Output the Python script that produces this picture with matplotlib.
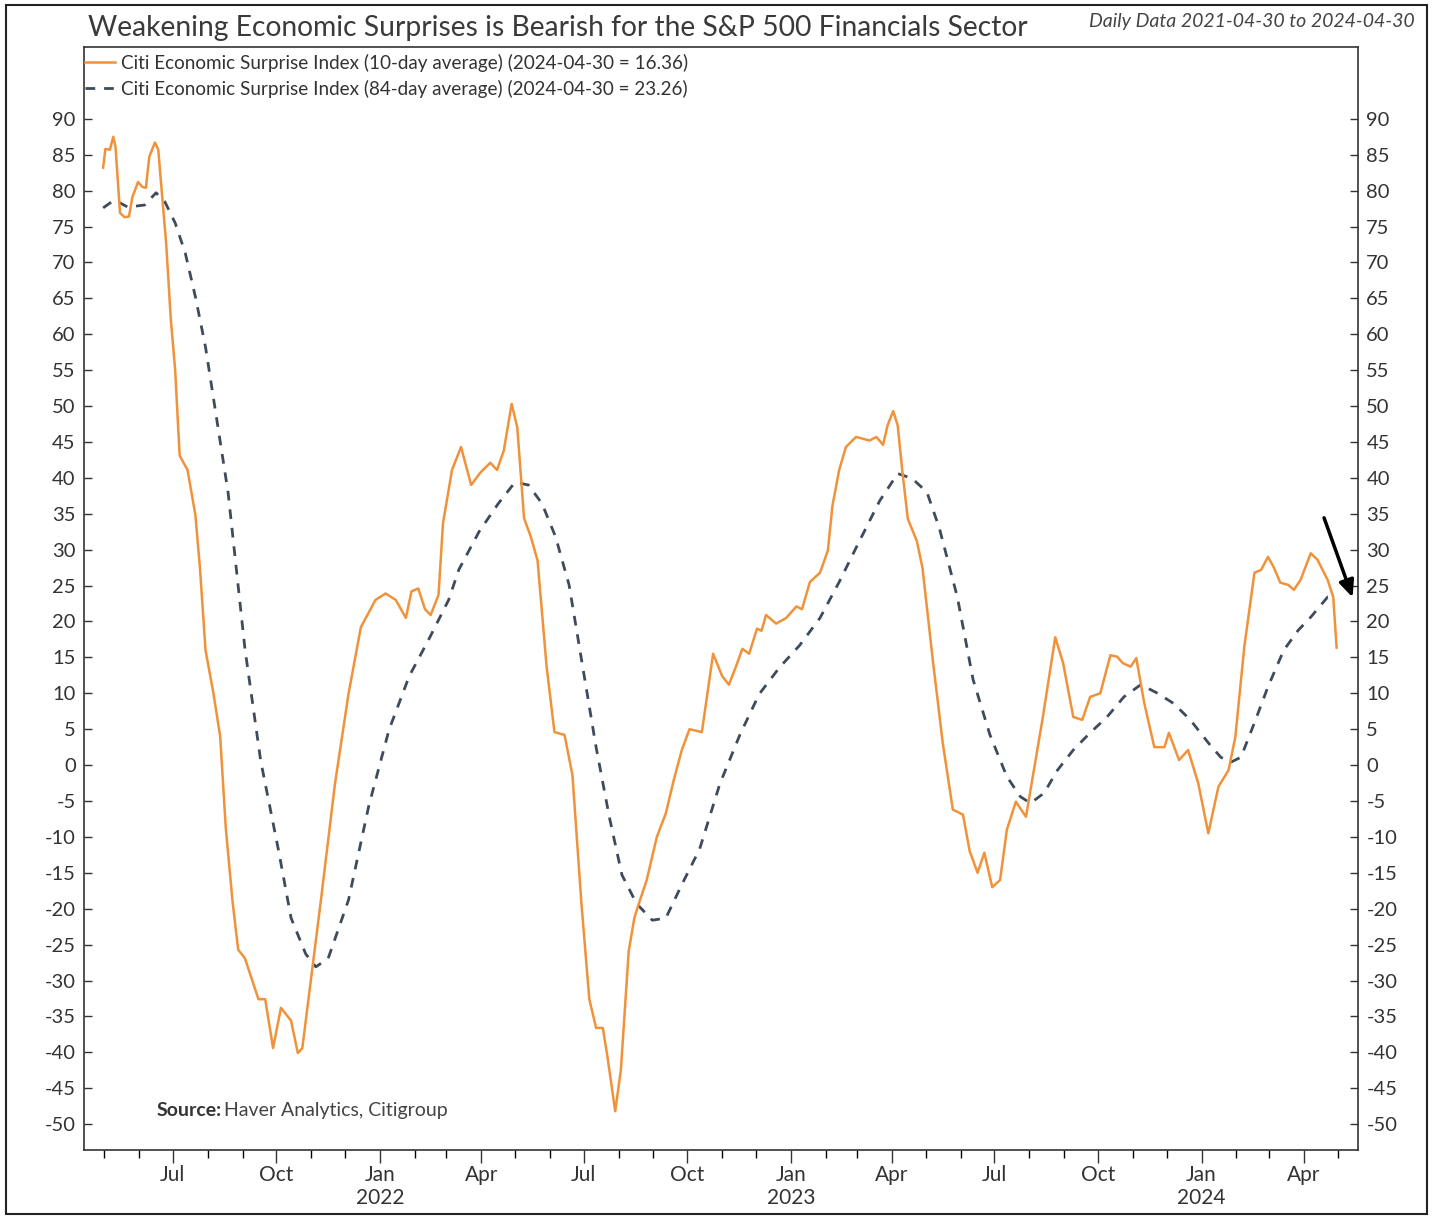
import numpy as np
import pandas as pd
import matplotlib
matplotlib.use('Agg')
import matplotlib.pyplot as plt
import matplotlib.dates as mdates
from matplotlib.patches import Rectangle

# Citi Economic Surprise Index, 10-day average
fast_dates = ['2021-04-30', '2021-05-02', '2021-05-06', '2021-05-09', '2021-05-11', '2021-05-15',
              '2021-05-19', '2021-05-23', '2021-05-26', '2021-05-31', '2021-06-04', '2021-06-07',
              '2021-06-10', '2021-06-15', '2021-06-18', '2021-06-20', '2021-06-25', '2021-06-29',
              '2021-07-03', '2021-07-07', '2021-07-14', '2021-07-21', '2021-07-25', '2021-07-30',
              '2021-08-06', '2021-08-12', '2021-08-17', '2021-08-23', '2021-08-28', '2021-09-03',
              '2021-09-15', '2021-09-21', '2021-09-28', '2021-10-05', '2021-10-14', '2021-10-20',
              '2021-10-24', '2021-11-01', '2021-11-10', '2021-11-22', '2021-12-04', '2021-12-15',
              '2021-12-28', '2022-01-06', '2022-01-15', '2022-01-24', '2022-01-29', '2022-02-04',
              '2022-02-10', '2022-02-15', '2022-02-22', '2022-02-26', '2022-03-06', '2022-03-14',
              '2022-03-23', '2022-03-31', '2022-04-09', '2022-04-15', '2022-04-21', '2022-04-28',
              '2022-05-03', '2022-05-09', '2022-05-15', '2022-05-21', '2022-05-29', '2022-06-05',
              '2022-06-14', '2022-06-21', '2022-06-29', '2022-07-06', '2022-07-12', '2022-07-18',
              '2022-07-22', '2022-07-29', '2022-08-03', '2022-08-10', '2022-08-15', '2022-08-19',
              '2022-08-26', '2022-09-04', '2022-09-12', '2022-09-19', '2022-09-26', '2022-10-03',
              '2022-10-14', '2022-10-24', '2022-11-01', '2022-11-07', '2022-11-13', '2022-11-19',
              '2022-11-25', '2022-12-02', '2022-12-06', '2022-12-10', '2022-12-19', '2022-12-28',
              '2023-01-06', '2023-01-11', '2023-01-18', '2023-01-27', '2023-02-03', '2023-02-07',
              '2023-02-13', '2023-02-19', '2023-02-28', '2023-03-12', '2023-03-18', '2023-03-24',
              '2023-03-28', '2023-04-02', '2023-04-06', '2023-04-10', '2023-04-15', '2023-04-23',
              '2023-04-28', '2023-05-07', '2023-05-16', '2023-05-25', '2023-06-03', '2023-06-09',
              '2023-06-16', '2023-06-22', '2023-06-29', '2023-07-06', '2023-07-12', '2023-07-20',
              '2023-07-29', '2023-08-02', '2023-08-13', '2023-08-24', '2023-08-31', '2023-09-09',
              '2023-09-17', '2023-09-24', '2023-10-03', '2023-10-12', '2023-10-18', '2023-10-23',
              '2023-10-30', '2023-11-04', '2023-11-11', '2023-11-20', '2023-11-29', '2023-12-03',
              '2023-12-12', '2023-12-20', '2023-12-29', '2024-01-07', '2024-01-16', '2024-01-25',
              '2024-01-31', '2024-02-08', '2024-02-17', '2024-02-23', '2024-02-29', '2024-03-05',
              '2024-03-11', '2024-03-18', '2024-03-23', '2024-03-29', '2024-04-07', '2024-04-13',
              '2024-04-22', '2024-04-27', '2024-04-30']
fast_vals = [83.2, 85.8, 85.7, 87.5, 86.1, 76.9,
             76.3, 76.4, 79.1, 81.2, 80.5, 80.4,
             84.7, 86.7, 85.7, 81.9, 72.7, 62.4,
             55.0, 43.1, 41.1, 34.8, 27.5, 16.0,
             10.0, 4.0, -8.8, -19.0, -25.7, -26.9,
             -32.6, -32.6, -39.4, -33.8, -35.6, -40.1,
             -39.4, -29.4, -18.2, -2.6, 9.9, 19.2,
             23.0, 23.9, 23.0, 20.5, 24.2, 24.6,
             21.7, 20.9, 23.7, 33.7, 41.1, 44.3,
             39.0, 40.7, 42.1, 41.1, 43.8, 50.3,
             47.0, 34.4, 31.8, 28.5, 13.8, 4.6,
             4.2, -1.4, -19.3, -32.6, -36.6, -36.6,
             -40.5, -48.2, -42.5, -25.9, -21.3, -19.3,
             -16.0, -10.0, -6.7, -2.1, 2.0, 5.0,
             4.6, 15.5, 12.4, 11.2, 13.6, 16.2,
             15.5, 19.0, 18.7, 20.9, 19.7, 20.5,
             22.1, 21.7, 25.5, 26.8, 29.9, 36.1,
             41.1, 44.3, 45.7, 45.2, 45.7, 44.6,
             47.3, 49.3, 47.3, 41.1, 34.3, 31.2,
             27.5, 14.9, 3.1, -6.2, -6.9, -12.0,
             -15.0, -12.2, -17.0, -16.0, -9.0, -5.1,
             -7.2, -3.5, 6.7, 17.8, 14.2, 6.7,
             6.3, 9.5, 10.0, 15.3, 15.1, 14.2,
             13.7, 14.9, 8.7, 2.5, 2.5, 4.5,
             0.7, 2.1, -2.5, -9.5, -3.0, -0.7,
             3.9, 16.5, 26.8, 27.2, 29.0, 27.6,
             25.4, 25.1, 24.4, 25.8, 29.5, 28.6,
             25.8, 23.4, 16.36]

# Citi Economic Surprise Index, 84-day average
slow_dates = ['2021-04-30', '2021-05-10', '2021-05-22', '2021-06-06', '2021-06-16', '2021-06-24',
              '2021-07-03', '2021-07-12', '2021-07-21', '2021-07-30', '2021-08-19', '2021-09-03',
              '2021-09-17', '2021-10-03', '2021-10-14', '2021-10-27', '2021-11-05', '2021-11-16',
              '2021-12-04', '2021-12-22', '2022-01-09', '2022-01-27', '2022-02-13', '2022-03-03',
              '2022-03-12', '2022-03-30', '2022-04-16', '2022-05-01', '2022-05-13', '2022-05-25',
              '2022-06-06', '2022-06-18', '2022-06-30', '2022-07-12', '2022-07-24', '2022-08-04',
              '2022-08-17', '2022-08-31', '2022-09-12', '2022-09-26', '2022-10-12', '2022-10-30',
              '2022-11-17', '2022-12-04', '2022-12-22', '2023-01-09', '2023-01-27', '2023-02-13',
              '2023-03-03', '2023-03-21', '2023-04-06', '2023-04-19', '2023-05-02', '2023-05-13',
              '2023-05-29', '2023-06-12', '2023-06-27', '2023-07-12', '2023-07-24', '2023-08-02',
              '2023-08-14', '2023-08-26', '2023-09-09', '2023-09-24', '2023-10-09', '2023-10-24',
              '2023-11-08', '2023-11-23', '2023-12-07', '2023-12-22', '2024-01-07', '2024-01-18',
              '2024-01-27', '2024-02-05', '2024-02-17', '2024-02-29', '2024-03-14', '2024-03-27',
              '2024-04-07', '2024-04-22', '2024-04-30']
slow_vals = [77.6, 78.7, 77.7, 78.0, 79.7, 78.4,
             75.5, 71.3, 65.2, 58.2, 38.0, 16.2,
             0.6, -12.0, -21.3, -26.3, -28.1, -26.9,
             -18.8, -5.7, 4.9, 12.4, 17.4, 23.0,
             27.2, 32.5, 36.4, 39.4, 39.0, 36.4,
             31.8, 25.1, 13.8, 2.5, -7.4, -15.3,
             -19.3, -21.6, -21.3, -16.7, -11.7, -2.6,
             4.3, 9.9, 13.6, 16.7, 20.5, 25.5,
             31.2, 36.8, 40.6, 39.9, 38.0, 33.0,
             23.4, 11.9, 4.2, -1.6, -4.4, -5.3,
             -3.9, -0.7, 2.1, 4.5, 6.7, 9.5,
             11.2, 10.0, 8.6, 6.3, 3.1, 1.1,
             0.4, 1.1, 5.9, 10.9, 16.0, 18.8,
             20.6, 23.4, 23.26]

title = 'Weakening Economic Surprises is Bearish for the S&P 500 Financials Sector'
label_fast = 'Citi Economic Surprise Index (10-day average) (2024-04-30 = 16.36)'
label_slow = 'Citi Economic Surprise Index (84-day average) (2024-04-30 = 23.26)'
yticks = list(range(-50, 95, 5))

plt.rcParams['font.family'] = ['Lato', 'DejaVu Sans']
plt.rcParams['axes.unicode_minus'] = False

fig = plt.figure(figsize=(14.35, 12.17), dpi=100)
ax = fig.add_axes([84 / 1435, 1 - 1150 / 1217, (1358 - 84) / 1435, (1150 - 47) / 1217])

fd = pd.to_datetime(fast_dates)
sd = pd.to_datetime(slow_dates)
ax.plot(fd, fast_vals, color='#F0923A', lw=1.8, label=label_fast, zorder=3)
ax.plot(sd, slow_vals, color='#3E4B5B', lw=2.0, ls=(0, (3.5, 3.2)), label=label_slow, zorder=2)

ax.set_xlim(pd.Timestamp('2021-04-13'), pd.Timestamp('2024-05-19'))
ax.set_ylim(-53.6, 100)

ax.set_yticks(yticks)
ax.tick_params(axis='y', direction='in', length=6, width=1, labelsize=14.5, colors='#333333',
               left=True, right=True, labelleft=True, labelright=True, pad=6)

def qfmt(x, pos=None):
    d = mdates.num2date(x)
    name = d.strftime('%b')
    if d.month == 1:
        return name + '\n' + str(d.year)
    return name

ax.xaxis.set_major_locator(mdates.MonthLocator(bymonth=[1, 4, 7, 10]))
ax.xaxis.set_minor_locator(mdates.MonthLocator())
ax.xaxis.set_major_formatter(plt.FuncFormatter(qfmt))
ax.tick_params(axis='x', which='major', direction='out', length=9, width=1, labelsize=15,
               colors='#333333', pad=1.5)
ax.tick_params(axis='x', which='minor', direction='out', length=6, width=1)
for lab in ax.get_xticklabels():
    lab.set_linespacing(1.2)
for sp in ax.spines.values():
    sp.set_linewidth(1.2)
    sp.set_color('#333333')

leg = ax.legend(loc='upper left', bbox_to_anchor=(-0.008, 1.004), frameon=False, fontsize=13.6,
                handlelength=1.6, handletextpad=0.3, labelspacing=0.4, borderaxespad=0.2)
for t in leg.get_texts():
    t.set_color('#333333')

fig.text(88 / 1435, 1 - 28 / 1217, title, fontsize=20.3, color='#3a3a3a', va='center', ha='left')
fig.text(1415 / 1435, 1 - 22 / 1217, 'Daily Data 2021-04-30 to 2024-04-30', fontsize=14,
         style='italic', color='#444444', va='center', ha='right')

ax.text(0.057, 0.036, 'Source:', transform=ax.transAxes, fontsize=14, fontweight='bold',
        color='#333333', va='center', ha='left')
ax.text(0.1095, 0.036, 'Haver Analytics, Citigroup', transform=ax.transAxes, fontsize=14,
        color='#444444', va='center', ha='left')

ax.annotate('', xy=(pd.Timestamp('2024-05-15'), 23.0), xytext=(pd.Timestamp('2024-04-18'), 34.8),
            arrowprops=dict(arrowstyle='-|>,head_length=1.0,head_width=0.45', color='black', lw=2.5),
            annotation_clip=False, zorder=5)

fig.patches.append(Rectangle((6 / 1435, 3 / 1217), 1421 / 1435, 1 - 8 / 1217, transform=fig.transFigure,
                             fill=False, edgecolor='#222222', lw=1.5))

fig.savefig('out.png', dpi=100)
